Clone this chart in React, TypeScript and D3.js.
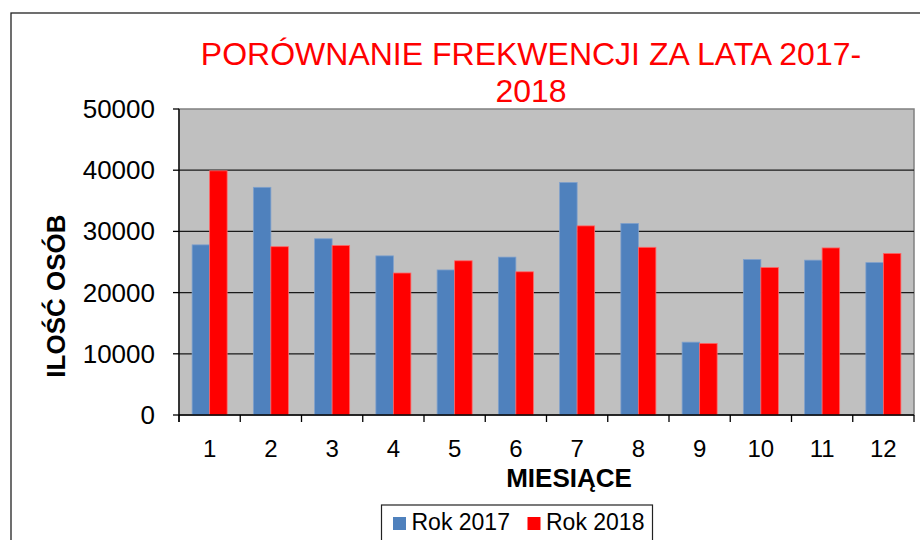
import React from 'react';
import * as d3 from 'd3';

const months = ['1', '2', '3', '4', '5', '6', '7', '8', '9', '10', '11', '12'];
const rok2017 = [27800, 37200, 28800, 26000, 23700, 25800, 38000, 31300, 11900, 25400, 25300, 24900];
const rok2018 = [39900, 27500, 27700, 23200, 25200, 23400, 30900, 27400, 11700, 24100, 27300, 26400];
const seriesNames = ['Rok 2017', 'Rok 2018'];
const seriesColors = ['#4F81BD', '#FF0000'];
const seriesStrokes = ['#7FA0CC', '#FF6666'];
const yTicks = [0, 10000, 20000, 30000, 40000, 50000];
const titleLines = ['PORÓWNANIE FREKWENCJI ZA LATA 2017-', '2018'];
const yTitle = 'ILOŚĆ OSÓB';
const xTitle = 'MIESIĄCE';

const W = 920;
const H = 540;
const plot = { left: 179, right: 914, top: 109, bottom: 415 };
const FONT = '"Liberation Sans", Arial, sans-serif';

export default function App() {
  const x0 = d3.scaleBand<string>().domain(months).range([plot.left, plot.right]).padding(0);
  const x1 = d3
    .scaleBand<string>()
    .domain(seriesNames)
    .range([0, x0.bandwidth()])
    .paddingInner(0)
    .paddingOuter(0.75);
  const y = d3.scaleLinear().domain([0, 50000]).range([plot.bottom, plot.top]);
  const data = [rok2017, rok2018];
  const boundaries = months.map((m) => x0(m) as number).concat([plot.right]);

  return (
    <svg
      width={W}
      height={H}
      style={{ position: 'absolute', left: 0, top: 0, display: 'block', background: '#fff' }}
      fontFamily={FONT}
    >
      {/* outer frame */}
      <rect x={11} y={13} width={W} height={H} fill="#fff" stroke="#222" strokeWidth={1.3} />

      {/* title */}
      {titleLines.map((t, i) => (
        <text key={i} x={531} y={65 + i * 36.7} textAnchor="middle" fontSize={32} fill="#FF0000">
          {t}
        </text>
      ))}

      {/* plot area */}
      <rect
        x={plot.left}
        y={plot.top}
        width={plot.right - plot.left}
        height={plot.bottom - plot.top}
        fill="#C0C0C0"
        stroke="#808080"
        strokeWidth={1.5}
      />

      {/* gridlines */}
      {yTicks
        .filter((t) => t > 0 && t < 50000)
        .map((t) => (
          <line key={t} x1={plot.left} x2={plot.right} y1={y(t)} y2={y(t)} stroke="#1a1a1a" strokeWidth={1.2} />
        ))}

      {/* bars */}
      {months.map((m, i) => (
        <g key={m} transform={`translate(${x0(m)},0)`}>
          {seriesNames.map((s, si) => (
            <rect
              key={s}
              x={x1(s)}
              y={y(data[si][i])}
              width={x1.bandwidth()}
              height={y(0) - y(data[si][i])}
              fill={seriesColors[si]}
              stroke={seriesStrokes[si]}
              strokeWidth={0.8}
            />
          ))}
        </g>
      ))}

      {/* y axis */}
      <line x1={plot.left} x2={plot.left} y1={plot.top} y2={plot.bottom + 7} stroke="#000" strokeWidth={1.3} />
      {yTicks.map((t) => (
        <g key={t}>
          <line x1={plot.left - 6} x2={plot.left} y1={y(t)} y2={y(t)} stroke="#000" strokeWidth={1.3} />
          <text x={155} y={y(t) + 9} textAnchor="end" fontSize={26} fill="#000">
            {t}
          </text>
        </g>
      ))}

      {/* x axis */}
      <line x1={plot.left} x2={plot.right} y1={plot.bottom} y2={plot.bottom} stroke="#000" strokeWidth={1.3} />
      {boundaries.map((b, i) => (
        <line key={i} x1={b} x2={b} y1={plot.bottom} y2={plot.bottom + 7} stroke="#000" strokeWidth={1.3} />
      ))}
      {months.map((m) => (
        <text
          key={m}
          x={(x0(m) as number) + x0.bandwidth() / 2}
          y={456.5}
          textAnchor="middle"
          fontSize={24}
          fill="#000"
        >
          {m}
        </text>
      ))}

      {/* axis titles */}
      <text
        transform={`translate(65,296) rotate(-90)`}
        textAnchor="middle"
        fontSize={26}
        fontWeight="bold"
        fill="#000"
      >
        {yTitle}
      </text>
      <text x={569} y={487} textAnchor="middle" fontSize={26} fontWeight="bold" fill="#000">
        {xTitle}
      </text>

      {/* legend */}
      <rect x={381.5} y={505} width={271} height={60} fill="#fff" stroke="#222" strokeWidth={1.2} />
      {seriesNames.map((s, si) => {
        const lx = si === 0 ? 393 : 527.5;
        return (
          <g key={s}>
            <rect x={lx} y={517} width={13} height={13} fill={seriesColors[si]} />
            <text x={lx + 18.5} y={530} fontSize={23} fill="#000">
              {s}
            </text>
          </g>
        );
      })}
    </svg>
  );
}
